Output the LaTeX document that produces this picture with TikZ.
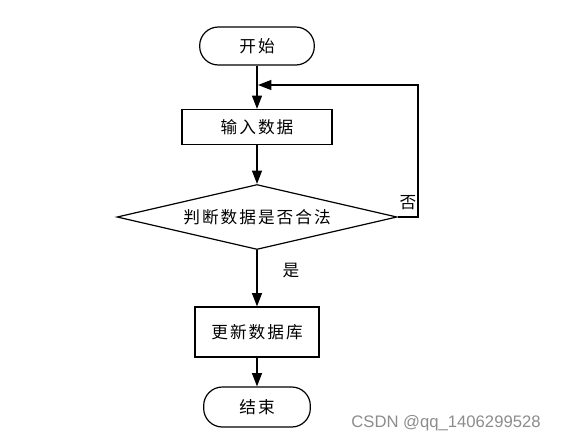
\documentclass[tikz,border=0pt]{standalone}
\usepackage{fontspec}
\newfontfamily\cjk[LetterSpace=12]{Noto Sans CJK SC}
\newfontfamily\wmark{Liberation Sans}
\usetikzlibrary{arrows.meta,shapes.geometric}

\tikzset{every picture/.style={line width=0.9pt}}
\tikzset{
  terminal/.style={draw, rounded corners=14pt, inner sep=0pt, font=\cjk\fontsize{12.5}{15}\selectfont},
  procbox/.style={draw, inner sep=0pt, font=\cjk\fontsize{12.5}{15}\selectfont},
  decision/.style={draw, diamond, aspect=4.3, inner sep=0pt, font=\cjk\fontsize{12.5}{15}\selectfont},
  flowarrow/.style={-{Triangle[length=10pt,width=7.5pt]}},
  branchlabel/.style={font=\cjk\fontsize{12.5}{15}\selectfont}
}

\begin{document}
\begin{tikzpicture}[x=0.75pt,y=0.75pt,yscale=-1,xscale=1]
\useasboundingbox (0,0) rectangle (567,444);

%Terminals and boxes
\node [terminal, minimum width=86pt, minimum height=28.5pt] (start) at (257,46) {开始};
\node [procbox, minimum width=112.5pt, minimum height=26.25pt] (input) at (257,127) {输入数据};
\node [decision, minimum width=210pt, minimum height=48.75pt] (check) at (257,217) {判断数据是否合法};
\node [procbox, minimum width=93pt, minimum height=37.5pt] (update) at (257,332) {更新数据库};
\node [terminal, minimum width=80pt, minimum height=30pt] (finish) at (257,407) {结束};

%Loop back point
\coordinate (loop) at (258,85);

%Connectors
\draw [flowarrow] (start) -- (input);
\draw [flowarrow] (input) -- (check);
\draw [flowarrow] (check) -- (update);
\draw [flowarrow] (update) -- (finish);
\draw [flowarrow] (check.east) -- (418,217) -- (418,85) -- (loop);

%Labels
\node [branchlabel] (no) at (408,203) {否};
\node [branchlabel] (yes) at (291,271) {是};

%Watermark
\node [text=black!45, font=\wmark\fontsize{12.5}{14}\selectfont] (mark) at (446,423) {CSDN @qq\_1406299528};

\end{tikzpicture}
\end{document}
